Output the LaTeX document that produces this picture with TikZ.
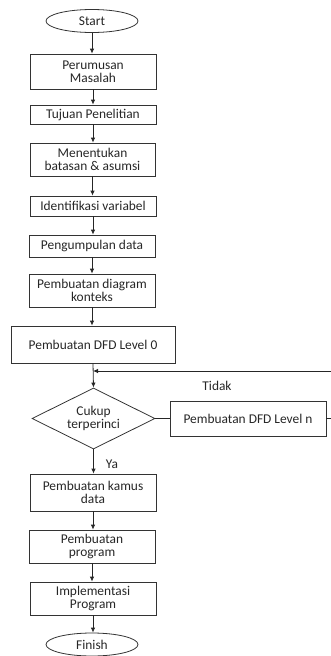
\documentclass[tikz,border=0pt]{standalone}
\usepackage{fontspec}
\setmainfont{Carlito}
\usetikzlibrary{shapes.geometric,arrows.meta}
\begin{document}
\begin{tikzpicture}[x=1pt,y=-1pt,
  every node/.style={font=\fontsize{13.4}{13}\selectfont, align=center, inner sep=0pt, text=black!85},
  procbox/.style={draw=black!80, line width=0.8pt, rectangle},
  termin/.style={draw=black!80, line width=0.8pt, ellipse, minimum width=92pt, minimum height=23pt},
  decis/.style={draw=black!80, line width=0.8pt, diamond, minimum width=123pt, minimum height=61pt, aspect=2},
  arr/.style={draw=black!85, line width=0.8pt, -{Latex[length=5pt,width=4.5pt]}},
  ln/.style={draw=black!85, line width=0.8pt}]
\useasboundingbox (0,0) rectangle (331,656);
\clip (0,0) rectangle (331,656);
\node[termin] (start) at (92,21) {Start};
\node[procbox, minimum width=126pt, minimum height=35pt] (p1) at (93,71.5) {Perumusan\\Masalah};
\node[procbox, minimum width=126pt, minimum height=19pt] (p2) at (93,114.5) {Tujuan Penelitian};
\node[procbox, minimum width=125pt, minimum height=33pt] (p3) at (92.5,159.5) {Menentukan\\batasan \& asumsi};
\node[procbox, minimum width=126pt, minimum height=20pt] (p4) at (93,206) {Identifikasi variabel};
\node[procbox, minimum width=126pt, minimum height=22pt] (p5) at (92,246) {Pengumpulan data};
\node[procbox, minimum width=126pt, minimum height=33pt] (p6) at (92,290.5) {Pembuatan diagram\\konteks};
\node[procbox, minimum width=164pt, minimum height=37pt] (p7) at (93,344.5) {Pembuatan DFD Level 0};
\node[decis] (d) at (93.5,418.5) {Cukup\\terperinci};
\node[procbox, minimum width=156pt, minimum height=35pt] (lvn) at (248,418.5) {Pembuatan DFD Level n};
\node[procbox, minimum width=126pt, minimum height=37pt] (p8) at (93,492.5) {Pembuatan kamus\\data};
\node[procbox, minimum width=126pt, minimum height=33pt] (p9) at (92,546.5) {Pembuatan\\program};
\node[procbox, minimum width=126pt, minimum height=33pt] (p10) at (93,598.5) {Implementasi\\Program};
\node[termin] (finish) at (92,644.5) {Finish};
\node (tidak) at (217,386) {Tidak};
\node (ya) at (112,464) {Ya};
\coordinate (join) at (93,371);
\coordinate (farR) at (336,418.5);
\draw[arr] (start) -- (start |- p1.north);
\draw[arr] (p1) -- (p1 |- p2.north);
\draw[arr] (p2) -- (p2 |- p3.north);
\draw[arr] (p3) -- (p3 |- p4.north);
\draw[arr] (p4) -- (p4 |- p5.north);
\draw[arr] (p5) -- (p5 |- p6.north);
\draw[arr] (p6) -- (p6 |- p7.north);
\draw[arr] (p7.south) -- (d.north);
\draw[ln] (d.east) -- (lvn.west);
\draw[ln] (lvn.east) -- (farR);
\draw[arr] (farR) |- (join);
\draw[arr] (d.south) -- (d.south |- p8.north);
\draw[arr] (p8) -- (p8 |- p9.north);
\draw[arr] (p9) -- (p9 |- p10.north);
\draw[arr] (p10) -- (p10 |- finish.north);
\end{tikzpicture}
\end{document}
